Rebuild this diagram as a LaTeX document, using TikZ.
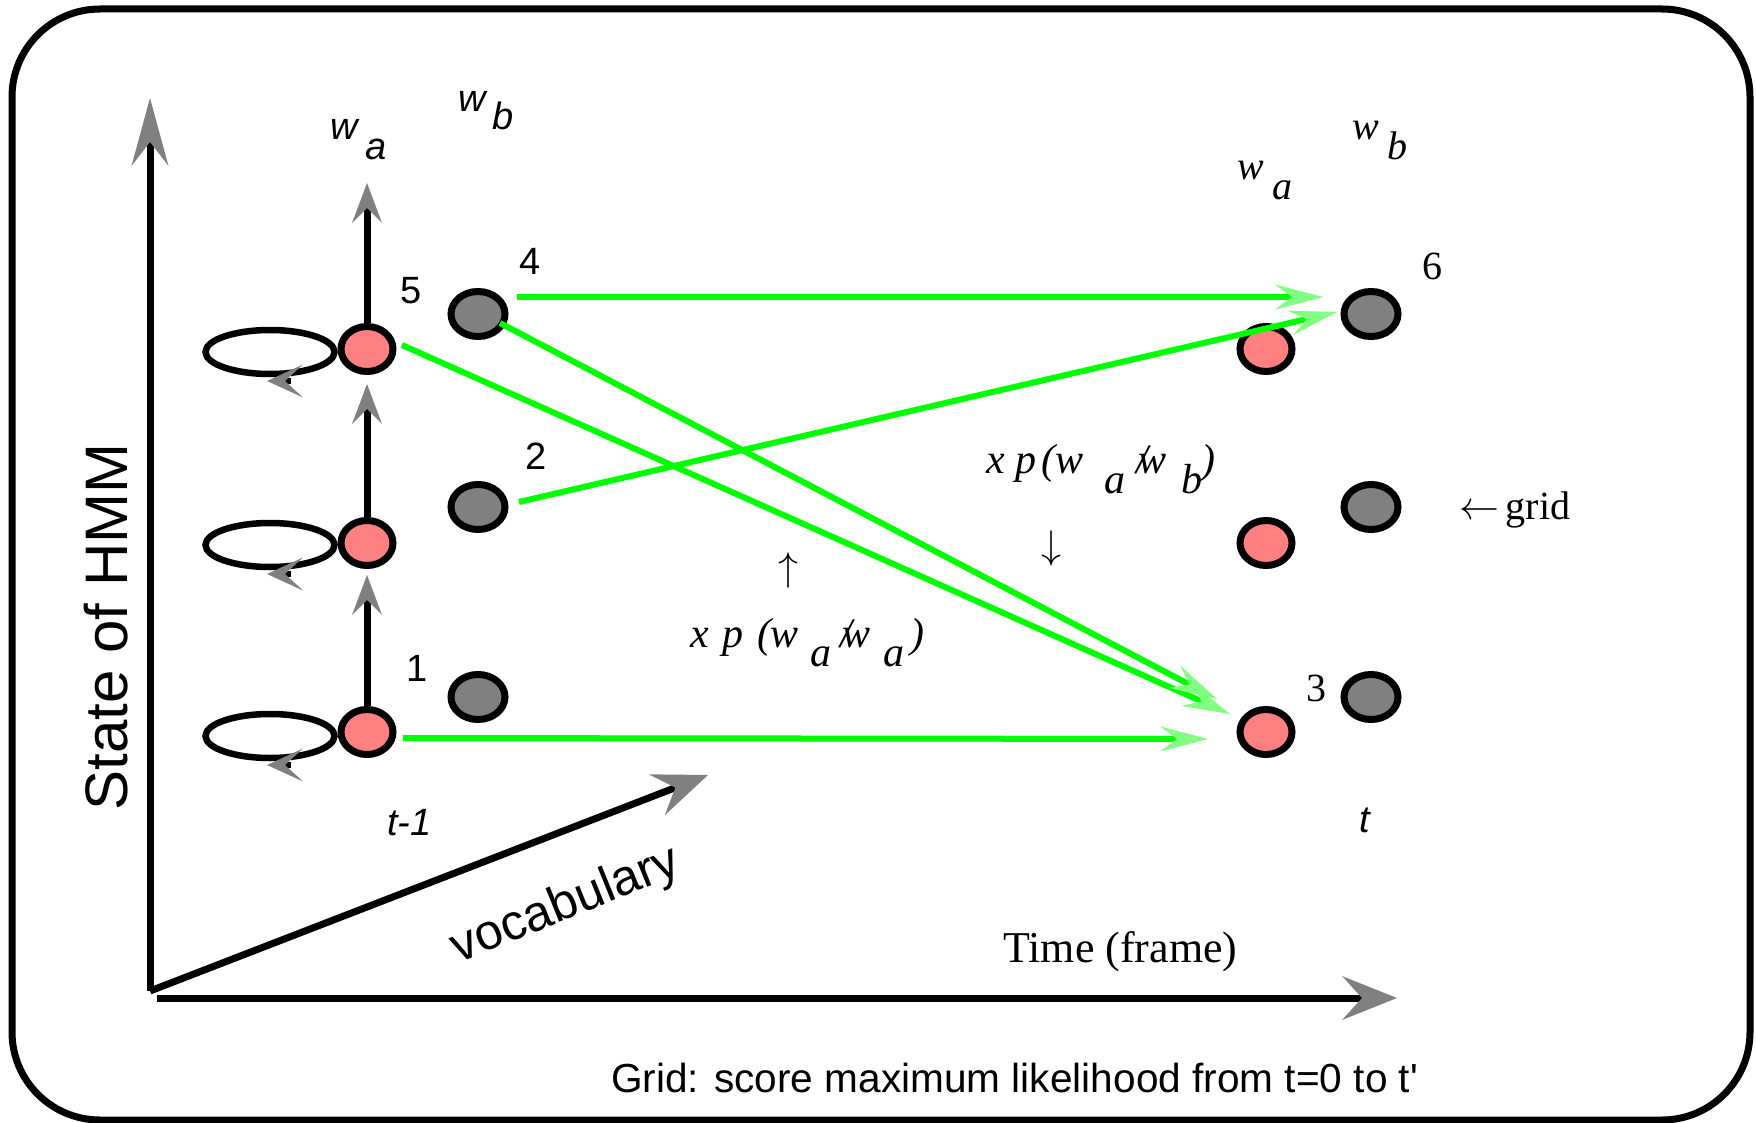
\documentclass[tikz,border=0pt]{standalone}
\usepackage{fix-cm}
\usepackage{fontspec}
\setmainfont{Liberation Serif}
\setsansfont{Liberation Sans}
\usetikzlibrary{arrows.meta,shapes.geometric,calc}
\definecolor{pinkred}{RGB}{255,128,128}
\definecolor{midgray}{RGB}{128,128,128}
\definecolor{vgreen}{RGB}{0,255,0}
\definecolor{lgreen}{RGB}{128,255,128}
\newcommand{\pc}[3]{\rlap{\hspace*{#1pt}\raisebox{#2pt}{#3}}}
\begin{document}
\begin{tikzpicture}[x=1pt,y=-1pt,
  every node/.style={inner sep=0pt},
  statered/.style={ellipse,draw=black,line width=7pt,fill=pinkred,minimum width=52pt,minimum height=45pt},
  stategray/.style={ellipse,draw=black,line width=7pt,fill=midgray,minimum width=54pt,minimum height=45pt},
  selfloop/.style={ellipse,draw=black,line width=6.5pt,minimum width=129pt,minimum height=44pt},
  looptip/.style={line width=6.5pt,-{Stealth[length=36pt,width=33pt,inset=18pt,line width=0pt,color=midgray]}},
  colarrow/.style={line width=7pt,-{Stealth[length=40pt,width=30pt,inset=15pt,line width=0pt,color=midgray]}},
  yaxisarrow/.style={line width=7pt,-{Stealth[length=68pt,width=37pt,inset=24pt,line width=0pt,color=midgray]}},
  xaxisarrow/.style={line width=7pt,-{Stealth[length=55pt,width=44pt,inset=20pt,line width=0pt,color=midgray]}},
  garrow/.style={draw=vgreen,line width=6pt,-{Stealth[length=48pt,width=25pt,inset=17pt,line width=0pt,color=lgreen]}},
  sanslbl/.style={font=\sffamily\fontsize{38}{38}\selectfont},
  sansit/.style={font=\sffamily\itshape\fontsize{38}{38}\selectfont},
  serifit/.style={font=\itshape\fontsize{40}{40}\selectfont},
  seriflbl/.style={font=\fontsize{40}{40}\selectfont},
  formula/.style={anchor=base west,font=\itshape\fontsize{42}{42}\selectfont}
]
\useasboundingbox (0,0) rectangle (1756,1123);
\draw[line width=7pt,rounded corners=88pt] (12,9) rectangle (1750,1120);

% axes
\coordinate (O) at (150,991);
\coordinate (ytop) at (150,98);
\coordinate (xstart) at (157,998);
\coordinate (xend) at (1397,998);
\coordinate (vend) at (708,775);
\draw[yaxisarrow] (O) -- (ytop);
\draw[xaxisarrow] (xstart) -- (xend);
\draw[xaxisarrow] (O) -- (vend);

% self loops
\node[selfloop] (l5) at (270,352) {};
\node[selfloop] (l2) at (270,545) {};
\node[selfloop] (l1) at (270,736) {};
\draw[looptip] ($(l5)+(21,29)$) -- ($(l5)+(-3,29)$);
\draw[looptip] ($(l2)+(21,29)$) -- ($(l2)+(-3,29)$);
\draw[looptip] ($(l1)+(21,29)$) -- ($(l1)+(-3,29)$);

% states
\node[statered] (r5) at (367,349) {};
\node[statered] (r2) at (367,543) {};
\node[statered] (r1) at (367,732) {};
\node[stategray] (g4) at (478,314) {};
\node[stategray] (g2) at (478,507) {};
\node[stategray] (g1) at (478,697) {};
\node[statered] (s5) at (1266,349) {};
\node[statered] (s2) at (1266,543) {};
\node[statered] (r3) at (1266,732) {};
\node[stategray] (g6) at (1371,314) {};
\node[stategray] (h2) at (1371,507) {};
\node[stategray] (h3) at (1371,697) {};

% column arrows
\coordinate (wa) at (367,183);
\draw[colarrow,shorten >=6pt] (r1) -- (r2);
\draw[colarrow,shorten >=9pt] (r2) -- (r5);
\draw[colarrow] (r5) -- (wa);

% green transitions
\draw[garrow] ($(g4)+(39,-17)$) -- ($(g6)+(-48,-17)$);
\draw[garrow] ($(g2)+(41,-5)$) -- ($(g6)+(-34,-2)$);
\draw[garrow] ($(r5)+(35,-4)$) -- ($(r3)+(-36,-18)$);
\draw[garrow] ($(g4)+(22,9)$) -- ($(r3)+(-49,-33)$);
\draw[garrow] ($(r1)+(36,6)$) -- ($(r3)+(-58,7)$);

% labels left
\node[sansit,anchor=base west] (twa) at (330,140) {w};
\node[sansit,anchor=base west] (twas) at (365,160) {a};
\node[sansit,anchor=base west] (twb) at (458,112) {w};
\node[sansit,anchor=base west] (twbs) at (492,130) {b};
\node[sanslbl] (n5) at (411,291) {5};
\node[sanslbl] (n4) at (530,261) {4};
\node[sanslbl] (n2) at (536,456) {2};
\node[sanslbl] (n1) at (417,668) {1};
\node[sansit,anchor=base west] (tm1) at (387,835) {t-1};

% labels right
\node[serifit,anchor=base west] (rwa) at (1237,180) {w};
\node[serifit,anchor=base west] (rwas) at (1272,200) {a};
\node[serifit,anchor=base west] (rwb) at (1352,140) {w};
\node[serifit,anchor=base west] (rwbs) at (1387,160) {b};
\node[seriflbl] (n6) at (1432,266) {6};
\node[seriflbl] (n3) at (1316,688) {3};
\node[sansit] (tt) at (1365,820) {t};
\node[anchor=base west,font=\fontsize{40}{40}\selectfont] (grid) at (1459,519) {$\leftarrow$\,grid};

% formulas
\node[formula] (fab) at (986,473) {\pc{0}{0}{x}\pc{29}{0}{p}\pc{55}{0}{(}\pc{69}{0}{w}\pc{118}{-20}{a}\pc{150}{0}{/}\pc{152}{0}{w}\pc{195}{-20}{b}\pc{215}{0}{)}\hspace*{233pt}};
\node[formula] (faa) at (690,647) {\pc{0}{0}{x}\pc{32}{0}{p}\pc{67}{0}{(}\pc{80}{0}{w}\pc{120}{-19}{a}\pc{150}{0}{/}\pc{152}{0}{w}\pc{193}{-19}{a}\pc{220}{0}{)}\hspace*{236pt}};
\node[seriflbl] (dn) at (1051,548) {$\downarrow$};
\node[seriflbl] (up) at (788,570) {$\uparrow$};

% axis titles
\node[rotate=90,font=\sffamily\fontsize{60}{60}\selectfont] (hmm) at (106,627) {State of HMM};
\node[rotate=22,font=\sffamily\fontsize{50}{50}\selectfont] (voc) at (566,906) {vocabulary};
\node[anchor=base west,font=\fontsize{44}{44}\selectfont] (time) at (1003,962) {Time (frame)};
\node[anchor=base west,font=\sffamily\fontsize{40.6}{40.6}\selectfont] (cap) at (611,1092) {Grid: score maximum likelihood from t=0 to t\textquotesingle};
\end{tikzpicture}
\end{document}
